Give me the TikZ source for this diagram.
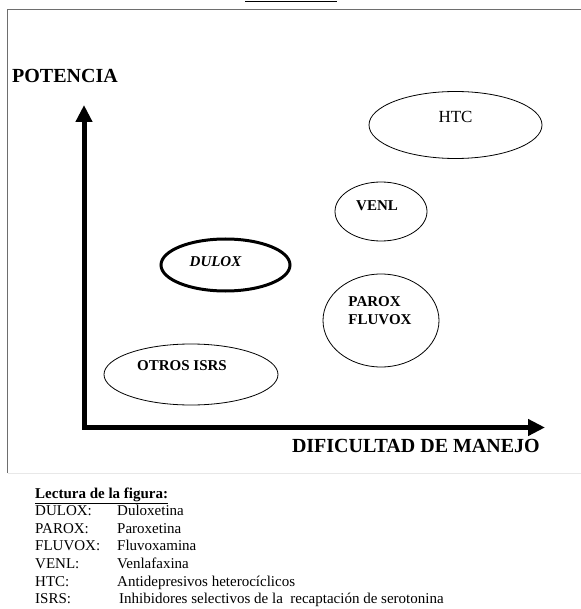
\documentclass[tikz,border=0pt]{standalone}
\usepackage{fontspec}
\setmainfont{Liberation Serif}
\usetikzlibrary{shapes.geometric, arrows.meta, positioning}
\definecolor{frameGray}{RGB}{110,110,110}
\definecolor{frameLight}{RGB}{232,232,232}

\begin{document}
\begin{tikzpicture}[x=1pt,y=-1pt,
  bubble/.style={draw, ellipse, inner sep=0pt, line width=0.8pt},
  tag/.style={font=\fontsize{15}{18}\selectfont\bfseries, align=left},
  leyenda/.style={font=\fontsize{15}{18}\selectfont, inner sep=0pt, anchor=base west},
  eje/.style={line width=5pt, {Triangle[length=17pt,width=16pt]}-{Triangle[length=17pt,width=16pt]}}]
\useasboundingbox (0,0) rectangle (580,609);
\draw[line width=1.2pt] (245,1.7) -- (337,1.7);
\draw[frameGray, line width=0.8pt] (7.5,473) -- (7.5,9.5) -- (590,9.5);
\draw[frameLight, line width=0.8pt] (7.5,473) -- (590,473);

\coordinate (ytip) at (84,105);
\coordinate (origen) at (84,427.5);
\coordinate (xtip) at (545,427.5);
\draw[eje] (ytip) -- (origen) -- (xtip);
\node[font=\fontsize{20}{24}\selectfont\bfseries, anchor=west, inner sep=0pt] (potencia) at (12,76) {POTENCIA};
\node[font=\fontsize{20}{24}\selectfont\bfseries, anchor=base east, inner sep=0pt] (dificultad) at (540,452) {DIFICULTAD DE MANEJO};

\node[bubble, minimum width=173pt, minimum height=67pt, label={[font=\fontsize{17}{20}\selectfont, yshift=8pt]center:HTC}] (htc) at (455.5,125) {};
\node[bubble, minimum width=92pt, minimum height=59pt, label={[tag, xshift=-4pt, yshift=6pt]center:VENL}] (venl) at (381,211.5) {};
\node[bubble, line width=3pt, minimum width=129pt, minimum height=52pt, label={[tag, font=\fontsize{15}{18}\selectfont\bfseries\itshape, xshift=-10pt, yshift=3pt]center:DULOX}] (dulox) at (225.5,265) {};
\node[bubble, minimum width=116pt, minimum height=93pt, label={[tag, xshift=-1pt, yshift=10pt]center:PAROX\\FLUVOX}] (parox) at (381,320.5) {};
\node[bubble, minimum width=174pt, minimum height=61pt, label={[tag, xshift=-9pt, yshift=8.5pt]center:OTROS ISRS}] (otros) at (191,374.5) {};

\node[leyenda, font=\fontsize{15}{18}\selectfont\bfseries] (lectura) at (35,498) {\underline{Lectura de la figura:}};
\foreach \abrev/\nombre/\dx [count=\i] in {DULOX/Duloxetina/0, PAROX/Paroxetina/0, FLUVOX/Fluvoxamina/0, VENL/Venlafaxina/0, HTC/Antidepresivos heterocíclicos/0, ISRS/Inhibidores selectivos de la\ \ recaptación de serotonina/2} {
    \node[leyenda] (abrev\i) at (35,498+17.6*\i) {\abrev:};
    \node[leyenda] (nombre\i) at (117+\dx,498+17.6*\i) {\nombre};
}
\end{tikzpicture}
\end{document}
